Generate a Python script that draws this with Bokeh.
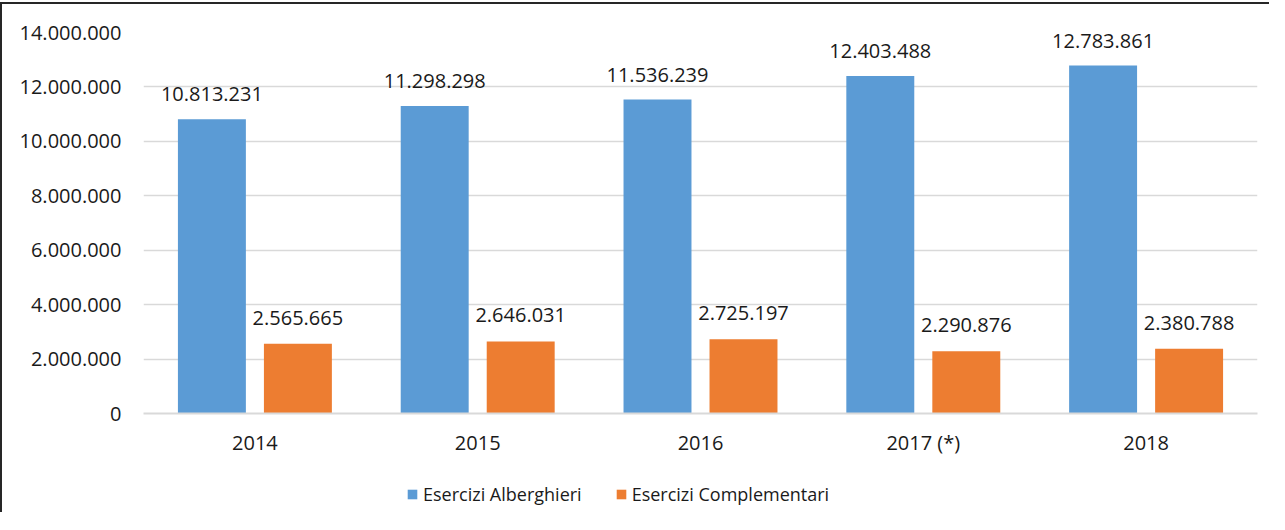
from bokeh.plotting import figure
from bokeh.layouts import column
from bokeh.models import ColumnDataSource, FactorRange, Range1d, FixedTicker, Legend, LegendItem
from bokeh.transform import dodge
from bokeh.core.properties import value
from bokeh.embed import file_html
from bokeh.resources import INLINE

years = ["2014", "2015", "2016", "2017 (*)", "2018"]
alberghieri = [10813231, 11298298, 11536239, 12403488, 12783861]
complementari = [2565665, 2646031, 2725197, 2290876, 2380788]
series_names = ["Esercizi Alberghieri", "Esercizi Complementari"]
tick_values = [0, 2000000, 4000000, 6000000, 8000000, 10000000, 12000000, 14000000]
tick_labels = ["0", "2.000.000", "4.000.000", "6.000.000", "8.000.000",
               "10.000.000", "12.000.000", "14.000.000"]

def fmt(v):
    return f"{v:,}".replace(",", ".")

FONT = "Open Sans"
TXT = "#1a1a1a"
BLUE = "#5B9BD5"
ORANGE = "#ED7D31"

src = ColumnDataSource(dict(
    year=years,
    alb=alberghieri,
    com=complementari,
    alb_lbl=[fmt(v) for v in alberghieri],
    com_lbl=[fmt(v) for v in complementari],
))

p = figure(x_range=FactorRange(*years, range_padding=0), y_range=Range1d(0, 14000000),
           width=1267, height=468, output_backend="svg", toolbar_location=None,
           min_border_left=141, min_border_right=12, min_border_top=28, min_border_bottom=59)

off = 0.193
bw = 0.305
p.vbar(x=dodge("year", -off, range=p.x_range), top="alb", width=bw, source=src,
       fill_color=BLUE, line_color=None)
p.vbar(x=dodge("year", off, range=p.x_range), top="com", width=bw, source=src,
       fill_color=ORANGE, line_color=None)

p.text(x=dodge("year", -off, range=p.x_range), y="alb", text="alb_lbl", source=src,
       y_offset=-25, text_align="center", text_baseline="middle",
       text_font=value(FONT), text_font_size="20px", text_color=TXT)
p.text(x=dodge("year", off, range=p.x_range), y="com", text="com_lbl", source=src,
       y_offset=-26, text_align="center", text_baseline="middle",
       text_font=value(FONT), text_font_size="20px", text_color=TXT)

p.outline_line_color = None
p.xgrid.grid_line_color = None
p.ygrid.grid_line_color = "#d9d9d9"
p.ygrid.grid_line_width = 1.5
p.yaxis.ticker = FixedTicker(ticks=tick_values)
p.yaxis.major_label_overrides = {v: l for v, l in zip(tick_values, tick_labels)}
p.yaxis.axis_line_color = None
p.yaxis.major_tick_line_color = None
p.yaxis.minor_tick_line_color = None
p.yaxis.major_label_standoff = 16
p.xaxis.axis_line_color = "#d9d9d9"
p.xaxis.axis_line_width = 2
p.xaxis.major_tick_line_color = None
p.xaxis.minor_tick_line_color = None
p.xaxis.major_label_standoff = 9
for ax in (p.xaxis, p.yaxis):
    ax.major_label_text_font = FONT
    ax.major_label_text_font_size = "20px"
    ax.major_label_text_color = TXT

# legend strip below the chart (its frame is aligned with the main frame)
lg = figure(x_range=Range1d(0, 1), y_range=Range1d(0, 1), width=1267, height=40,
            output_backend="svg", toolbar_location=None,
            min_border_left=0, min_border_right=0, min_border_top=0, min_border_bottom=0,
            x_axis_location=None, y_axis_location=None)
lg.outline_line_color = None
lg.grid.grid_line_color = None
d1 = lg.vbar(x=[0.5], top=[0], bottom=[0], width=0.1, fill_color=BLUE, line_color=None)
d2 = lg.vbar(x=[0.5], top=[0], bottom=[0], width=0.1, fill_color=ORANGE, line_color=None)
legend = Legend(items=[LegendItem(label=series_names[0], renderers=[d1]),
                       LegendItem(label=series_names[1], renderers=[d2])],
                orientation="horizontal", location=(263, 6),
                glyph_width=12, glyph_height=12, label_standoff=5, spacing=33,
                padding=0, margin=0, border_line_color=None, background_fill_alpha=0,
                label_text_font=FONT, label_text_font_size="18px", label_text_color=TXT)
lg.add_layout(legend, "center")

layout = column(p, lg, spacing=0,
                styles={"border-left": "2px solid #262626", "border-top": "2px solid #262626",
                        "margin-top": "2px"})

open("out.html", "w").write(file_html(layout, INLINE))
